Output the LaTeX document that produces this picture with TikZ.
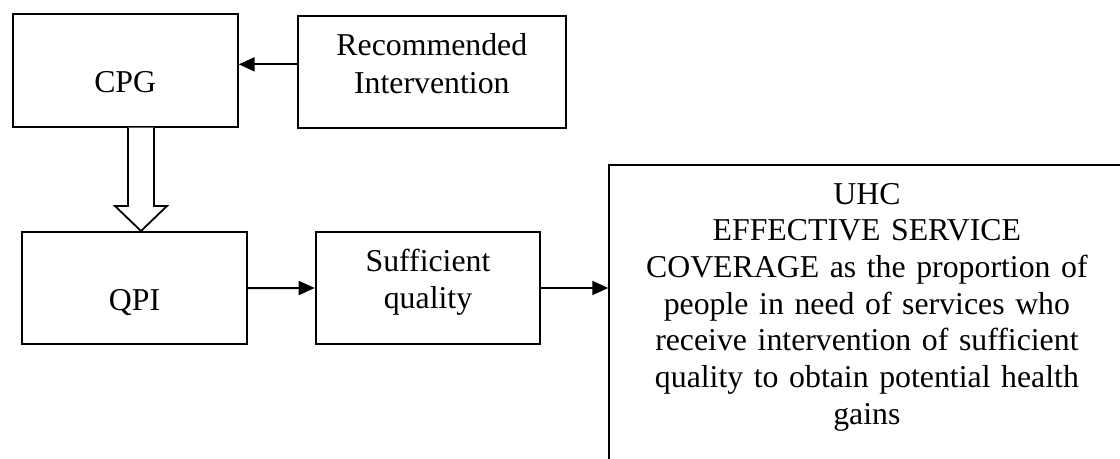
\documentclass[tikz,border=0pt]{standalone}
\usepackage{fontspec}
\setmainfont{Liberation Serif}
\usepackage{tikz}
\usetikzlibrary{arrows.meta,positioning}

\begin{document}
\begin{tikzpicture}[
  flow/.style={-{Triangle[length=8pt,width=7pt]},draw=black,line width=1pt},
  hollow flow/.style={draw=black,fill=white,line width=0.9pt,line join=miter},
  plain box/.style={draw=black,line width=1pt,inner sep=0pt,align=center,
    font=\fontsize{15.9}{18.6}\selectfont}
]
\useasboundingbox (0,0) rectangle (560pt,-229.5pt);

% Top row — guideline and its input.
\node[plain box,anchor=north west,text width=112.5pt,text height=39.2pt,text depth=17pt]
  (cpg) at (5.85pt,-6.65pt) {CPG};
\node[plain box,text width=133.85pt,text height=20pt,text depth=36.15pt,
  right=29.15pt of cpg.north east,anchor=north west,yshift=-0.85pt] (rec) {
  Recommended\\
  Intervention
};
\coordinate (rec-out) at ([yshift=3.9pt]rec.west);
\draw[flow] (rec-out) -- (rec-out -| cpg.east);

% Bottom row — indicators towards coverage.
\node[plain box,text width=112.5pt,text height=39.15pt,text depth=17pt,
  below=51.65pt of cpg.south west,anchor=north west,xshift=4.65pt] (qpi) {QPI};
\node[plain box,text width=112.3pt,text height=19.9pt,text depth=36.1pt,
  right=33.35pt of qpi.north east,anchor=north west] (suff) {
  Sufficient\\
  quality
};
\node[plain box,text width=257.6pt,text height=19.5pt,text depth=135.5pt,
  font=\fontsize{15.9}{18.35}\selectfont,
  right=33.5pt of suff.north east,anchor=north west,yshift=33.4pt] (uhc) {
  UHC\\
  EFFECTIVE SERVICE\\
  COVERAGE as the proportion of\\
  people in need of services who\\
  receive intervention of sufficient\\
  quality to obtain potential health\\
  gains
};
\draw[flow] (qpi.east) -- (suff.west);
\draw[flow] (suff.east) -- (suff.east -| uhc.west);

% Block arrow from CPG down to QPI.
\path (cpg.south west) ++(64.65pt,0) coordinate (drop-top);
\coordinate (drop-tip) at (drop-top |- qpi.north);
\draw[hollow flow] ([xshift=-6.5pt]drop-top) -- ++(0,-39.15pt) -- ++(-6.5pt,0)
  -- (drop-tip) -- ([xshift=13pt,yshift=12.5pt]drop-tip) -- ++(-6.5pt,0)
  -- ([xshift=6.5pt]drop-top);

\end{tikzpicture}
\end{document}
